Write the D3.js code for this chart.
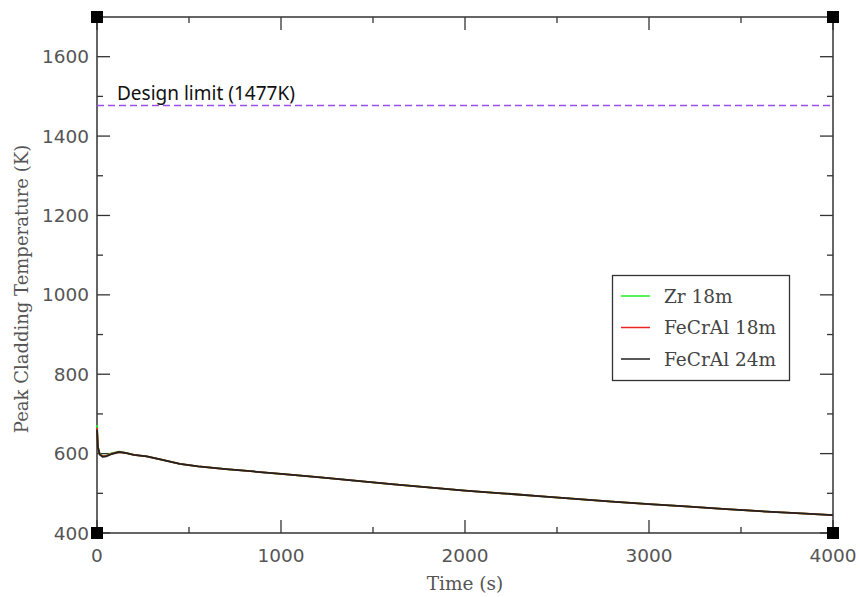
<!DOCTYPE html>
<html><head><meta charset="utf-8">
<script src="https://cdn.jsdelivr.net/npm/d3@7"></script>
<style>body{margin:0;background:#fff}</style>
</head><body>
<svg id="c" width="860" height="597"></svg>
<script>
const time = [0, 5, 15, 30, 50, 80, 120, 160, 200, 270, 350, 450, 550, 700, 850, 1000, 1200, 1400, 1600, 1800, 2000, 2200, 2400, 2600, 2800, 3000, 3200, 3400, 3600, 3800, 4000];
const zr18 = [672, 618, 599, 594, 595, 601, 605, 602, 597, 593, 585, 574, 568, 561, 555, 549, 541, 532, 523, 515, 507, 500, 493, 486, 479, 473, 467, 461, 455, 450, 445];
const fecral18 = [665, 616, 598, 593, 594, 600, 604, 601, 597, 593, 585, 574, 568, 561, 555, 549, 541, 532, 523, 515, 507, 500, 493, 486, 479, 473, 467, 461, 455, 450, 445];
const fecral24 = [660, 615, 598, 592, 593, 599, 604, 601, 597, 593, 585, 574, 568, 561, 555, 549, 541, 532, 523, 515, 507, 500, 493, 486, 479, 473, 467, 461, 455, 450, 445];
const seriesNames = ["Zr 18m", "FeCrAl 18m", "FeCrAl 24m"];
const seriesColors = ["#22ee22", "#ee2222", "#222222"];
const xTicks = [0, 1000, 2000, 3000, 4000];
const yTicks = [400, 600, 800, 1000, 1200, 1400, 1600];
const designLimit = 1477;
const designLabel = "Design limit (1477K)";

const svg = d3.select("#c");
const L = 97, R = 833, T = 17, B = 533;
const x = d3.scaleLinear().domain([0, 4000]).range([L, R]);
const y = d3.scaleLinear().domain([400, 1700]).range([B, T]);
const axisColor = "#333";
const tickFont = "'DejaVu Sans', sans-serif";
const slabFont = "'DejaVu Serif', serif";

const xMinor = d3.range(500, 4000, 1000);
const yMinor = d3.range(500, 1700, 200);
function tk(x1, y1, x2, y2) {
  svg.append("line").attr("x1", x1).attr("y1", y1).attr("x2", x2).attr("y2", y2)
    .attr("stroke", axisColor).attr("stroke-width", 1.3);
}
xTicks.forEach(v => { tk(x(v), B, x(v), B - 13); tk(x(v), T, x(v), T + 13); });
xMinor.forEach(v => { tk(x(v), B, x(v), B - 6); tk(x(v), T, x(v), T + 6); });
yTicks.forEach(v => { tk(L, y(v), L + 13, y(v)); tk(R, y(v), R - 13, y(v)); });
yMinor.forEach(v => { tk(L, y(v), L + 6, y(v)); tk(R, y(v), R - 6, y(v)); });

svg.append("rect").attr("x", L).attr("y", T).attr("width", R - L).attr("height", B - T)
  .attr("fill", "none").attr("stroke", axisColor).attr("stroke-width", 1.5);

svg.append("g").selectAll("text").data(xTicks).join("text")
  .attr("x", d => x(d)).attr("y", 562).attr("text-anchor", "middle")
  .attr("font-family", tickFont).attr("font-size", 18.5).attr("fill", "#555").text(d => d);
svg.append("g").selectAll("text").data(yTicks).join("text")
  .attr("x", 89).attr("y", d => y(d) + 6.5).attr("text-anchor", "end")
  .attr("font-family", tickFont).attr("font-size", 18.5).attr("fill", "#555").text(d => d);

svg.append("text").attr("x", 465).attr("y", 590).attr("text-anchor", "middle")
  .attr("font-family", slabFont).attr("font-size", 18.5).attr("fill", "#555").text("Time (s)");
svg.append("text").attr("transform", `translate(28,289) rotate(-90)`).attr("text-anchor", "middle")
  .attr("font-family", slabFont).attr("font-size", 18).attr("fill", "#555").text("Peak Cladding Temperature (K)");

svg.append("line").attr("x1", L).attr("x2", R).attr("y1", y(designLimit)).attr("y2", y(designLimit))
  .attr("stroke", "#9a50e8").attr("stroke-width", 1.6).attr("stroke-dasharray", "7,4");
svg.append("text").attr("x", 117).attr("y", 100)
  .attr("font-family", "'Noto Sans', sans-serif").attr("font-size", 19).attr("fill", "#111").text(designLabel);

const allSeries = [zr18, fecral18, fecral24];
const line = d3.line().x((d, i) => x(time[i])).y(d => y(d));
allSeries.forEach((s, k) => {
  svg.append("path").datum(s).attr("d", line).attr("fill", "none")
    .attr("stroke", seriesColors[k]).attr("stroke-width", 1.8);
});

[[L, T], [R, T], [L, B], [R, B]].forEach(([cx, cy]) => {
  svg.append("rect").attr("x", cx - 6).attr("y", cy - 6).attr("width", 12).attr("height", 12).attr("fill", "#000");
});

const lg = svg.append("g");
lg.append("rect").attr("x", 612.5).attr("y", 275.5).attr("width", 177).attr("height", 105)
  .attr("fill", "#fff").attr("stroke", "#333").attr("stroke-width", 1.3);
seriesNames.forEach((n, k) => {
  const yy = 296 + k * 31.5;
  lg.append("line").attr("x1", 621).attr("x2", 650).attr("y1", yy).attr("y2", yy)
    .attr("stroke", seriesColors[k]).attr("stroke-width", 1.5);
  lg.append("text").attr("x", 664).attr("y", yy + 6.5).attr("font-family", slabFont)
    .attr("font-size", 18.5).attr("fill", "#444").text(n);
});
</script>
</body></html>
